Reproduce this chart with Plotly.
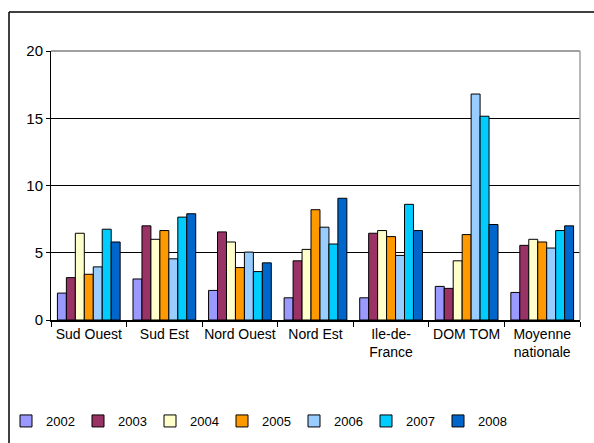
import plotly.graph_objects as go

# Regions and yearly values
regions = ["Sud Ouest", "Sud Est", "Nord Ouest", "Nord Est",
           "Ile-de-<br>France", "DOM TOM", "Moyenne<br>nationale"]
years = ["2002", "2003", "2004", "2005", "2006", "2007", "2008"]

v2002 = [2.0, 3.05, 2.2, 1.65, 1.65, 2.5, 2.05]
v2003 = [3.15, 7.0, 6.55, 4.4, 6.45, 2.35, 5.55]
v2004 = [6.45, 6.0, 5.8, 5.25, 6.65, 4.4, 6.0]
v2005 = [3.4, 6.65, 3.9, 8.2, 6.2, 6.35, 5.8]
v2006 = [3.95, 4.55, 5.05, 6.9, 4.8, 16.8, 5.35]
v2007 = [6.75, 7.65, 3.6, 5.65, 8.6, 15.15, 6.65]
v2008 = [5.8, 7.9, 4.25, 9.05, 6.65, 7.1, 7.0]

series = [v2002, v2003, v2004, v2005, v2006, v2007, v2008]
colors = ["#9999FF", "#993366", "#FFFFCC", "#FF9900", "#99CCFF", "#00CCFF", "#0066CC"]

y_ticks = [0, 5, 10, 15, 20]

FONT = "Liberation Sans, Arial, sans-serif"

fig = go.Figure()
for name, vals, col in zip(years, series, colors):
    fig.add_trace(go.Bar(
        x=regions, y=vals, name=name,
        marker=dict(color=col, line=dict(color="black", width=1)),
    ))

W, H = 594, 443
ML, MR, MT, MB = 51, 14, 51, 123
pw, ph = W - ML - MR, H - MT - MB

def px_to_paper_x(px):
    return (px - ML) / pw

def px_to_paper_y(py):
    return (H - MB - py) / ph

fig.update_layout(
    width=W, height=H,
    margin=dict(l=ML, r=MR, t=MT, b=MB, autoexpand=False),
    paper_bgcolor="white", plot_bgcolor="white",
    barmode="group", bargap=0.17, bargroupgap=0,
    font=dict(family=FONT, size=14, color="black"),
    showlegend=True,
    legend=dict(
        orientation="h", x=px_to_paper_x(6), xanchor="left",
        y=px_to_paper_y(421), yanchor="middle",
        font=dict(family=FONT, size=13, color="black"),
        itemwidth=30, entrywidth=27, traceorder="normal",
        bgcolor="rgba(0,0,0,0)",
    ),
    xaxis=dict(
        type="category", tickson="boundaries", ticks="outside",
        ticklen=5, tickcolor="black", showline=True, linecolor="black",
        linewidth=2, showgrid=False, tickangle=0, automargin=False,
        tickfont=dict(family=FONT, size=14, color="black"),
    ),
    yaxis=dict(
        range=[0, 20], tickvals=y_ticks, ticks="outside", ticklen=4,
        tickcolor="black", showline=True, linecolor="black", linewidth=1,
        showgrid=True, gridcolor="black", gridwidth=1, zeroline=False,
        automargin=False,
        tickfont=dict(family=FONT, size=15, color="black"),
    ),
    shapes=[
        # plot area outline (top and right edges)
        dict(type="line", xref="paper", yref="paper", x0=0, x1=1, y0=1, y1=1,
             line=dict(color="#808080", width=1.5), layer="above"),
        dict(type="line", xref="paper", yref="paper", x0=1, x1=1, y0=0, y1=1,
             line=dict(color="#A0A0A0", width=1.5), layer="above"),
        # outer chart frame: top and left edges
        dict(type="line", xref="paper", yref="paper",
             x0=px_to_paper_x(9), x1=px_to_paper_x(W),
             y0=px_to_paper_y(12), y1=px_to_paper_y(12),
             line=dict(color="black", width=1.5), layer="below"),
        dict(type="line", xref="paper", yref="paper",
             x0=px_to_paper_x(9), x1=px_to_paper_x(9),
             y0=px_to_paper_y(12), y1=px_to_paper_y(H),
             line=dict(color="black", width=1.5), layer="below"),
    ],
)

fig.write_html("out.html")
